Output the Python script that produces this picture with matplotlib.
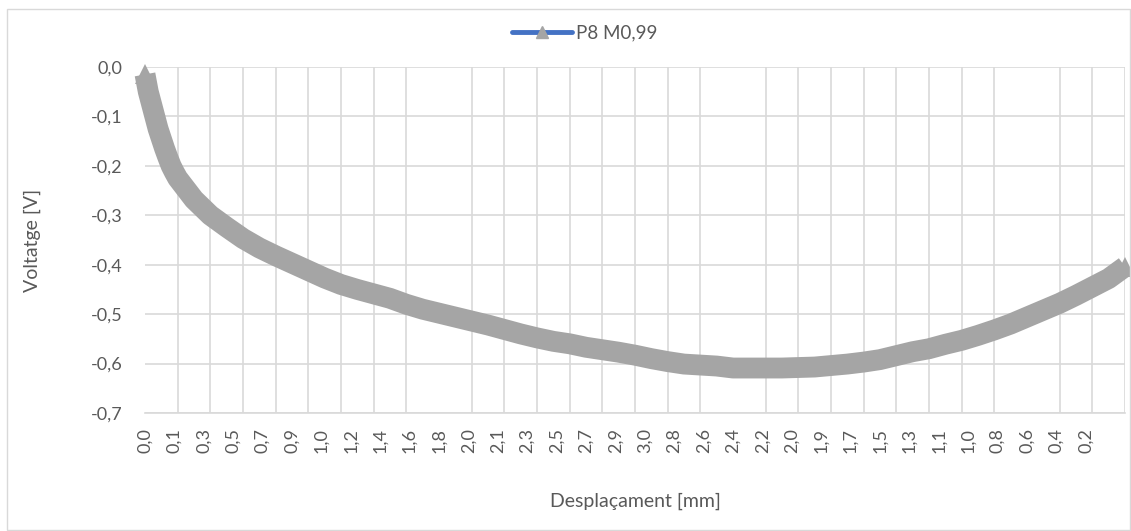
import numpy as np
import matplotlib.pyplot as plt
from matplotlib.lines import Line2D
from matplotlib.patches import Rectangle

plt.rcParams['font.family'] = ['Lato', 'DejaVu Sans']

# sample index along the test (Excel category axis)
sample = list(range(0, 10)) + list(range(10, 301, 5))

voltage = [-0.015, -0.050, -0.075, -0.100, -0.125, -0.145, -0.165, -0.183, -0.200, -0.213,
           -0.225, -0.268, -0.300, -0.324, -0.347, -0.366, -0.382, -0.397, -0.412, -0.427,
           -0.440, -0.450, -0.459, -0.468, -0.480, -0.490, -0.498, -0.506, -0.514, -0.522,
           -0.531, -0.540, -0.548, -0.555, -0.560, -0.567, -0.572, -0.577, -0.583, -0.590,
           -0.596, -0.601, -0.603, -0.605, -0.609, -0.609, -0.609, -0.609, -0.608, -0.607,
           -0.604, -0.601, -0.597, -0.592, -0.584, -0.576, -0.570, -0.561, -0.553, -0.543,
           -0.532, -0.520, -0.506, -0.492, -0.478, -0.462, -0.445, -0.428, -0.404]

# displacement labels shown every 9 samples
disp_labels = ['0,0', '0,1', '0,3', '0,5', '0,7', '0,9', '1,0', '1,2', '1,4', '1,6', '1,8',
               '2,0', '2,1', '2,3', '2,5', '2,7', '2,9', '3,0', '2,8', '2,6', '2,4', '2,2',
               '2,0', '1,9', '1,7', '1,5', '1,3', '1,1', '1,0', '0,8', '0,6', '0,4', '0,2']
label_step = 9
grid_step = 10
n_samples = 300

txt = '#595959'
grey = '#A5A5A5'
blue = '#4472C4'

fig = plt.figure(figsize=(11.31, 5.31), dpi=100)
ax = fig.add_axes([145 / 1131, 1 - 413 / 531, 980 / 1131, 346 / 531])

ax.plot(sample, voltage, color=blue, lw=2.25, zorder=2, clip_on=False)
ax.plot(sample, voltage, color=grey, lw=15, solid_joinstyle='round',
        solid_capstyle='butt', zorder=3, clip_on=False)
ax.plot(sample, voltage, ls='none', marker='^', ms=14, mfc=grey, mec=grey,
        mew=0, markevery=[0, len(sample) - 1], zorder=4, clip_on=False)

ax.set_xlim(0, n_samples)
ax.set_ylim(-0.7, 0.0)
ax.set_yticks(np.arange(-0.7, 0.01, 0.1))
ax.set_yticklabels([f'{v:.1f}'.replace('.', ',').replace('-0,0', '0,0')
                    for v in np.arange(-0.7, 0.01, 0.1)])
ax.set_xticks(np.arange(0, len(disp_labels) * label_step, label_step))
ax.set_xticklabels(disp_labels, rotation=90)
ax.set_xticks(np.arange(0, n_samples + 1, grid_step), minor=True)

ax.grid(True, which='minor', axis='x', color='#D9D9D9', lw=1.2)
ax.grid(True, which='major', axis='y', color='#D9D9D9', lw=1.2)
ax.set_axisbelow(True)
for s in ['top', 'right', 'left']:
    ax.spines[s].set_visible(False)
ax.spines['bottom'].set_color('#D9D9D9')
ax.spines['bottom'].set_linewidth(1.2)
ax.tick_params(which='both', length=0, colors=txt, labelsize=13)
ax.tick_params(axis='y', pad=16)
ax.tick_params(axis='x', pad=11)

ax.set_ylabel('Voltatge [V]', color=txt, fontsize=14, labelpad=36)
ax.set_xlabel('Desplaçament [mm]', color=txt, fontsize=14, labelpad=28)

handle = Line2D([], [], color=blue, lw=3.5, marker='^', ms=8, mfc=grey, mec=grey,
                solid_capstyle='round')
fig.legend([handle], ['P8 M0,99'], loc='center', bbox_to_anchor=(585 / 1131, 1 - 33 / 531),
           frameon=False, fontsize=13.5, labelcolor=txt, handlelength=3.2, handletextpad=0.2)

fig.patches.append(Rectangle((7 / 1131, 1 - 530 / 531), 1123 / 1131, 521 / 531,
                             transform=fig.transFigure, fill=False, ec='#D9D9D9', lw=1))

fig.savefig('out.png', dpi=100)
